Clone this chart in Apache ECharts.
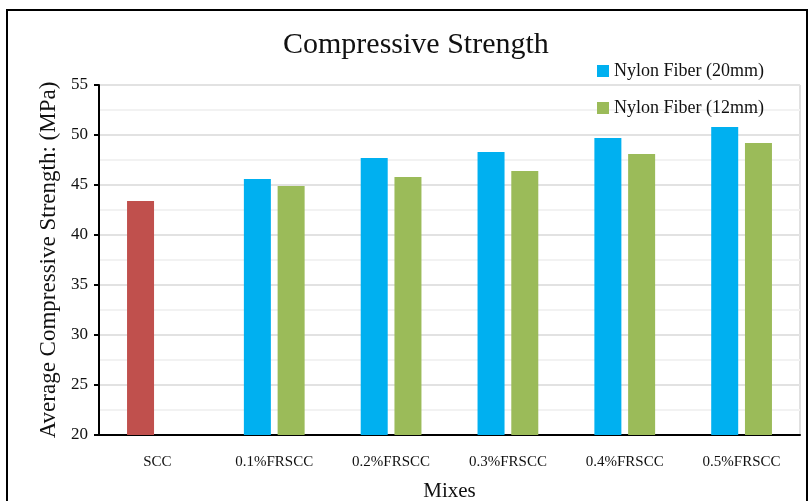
<!DOCTYPE html>
<html>
<head>
<meta charset="utf-8">
<script src="https://cdn.jsdelivr.net/npm/echarts@6/dist/echarts.min.js"></script>
<style>html,body{margin:0;padding:0;background:#fff;}#c{width:810px;height:501px;}</style>
</head>
<body>
<div id="c"></div>
<script>
const categories = ['SCC', '0.1%FRSCC', '0.2%FRSCC', '0.3%FRSCC', '0.4%FRSCC', '0.5%FRSCC'];
const nylon20 = [43.4, 45.6, 47.7, 48.3, 49.7, 50.8];
const nylon12 = [null, 44.9, 45.8, 46.4, 48.1, 49.2];
const seriesNames = ['Nylon Fiber (20mm)', 'Nylon Fiber (12mm)'];
const yTicks = [20, 25, 30, 35, 40, 45, 50, 55];

const serif = '"Liberation Serif", "DejaVu Serif", serif';
const chart = echarts.init(document.getElementById('c'), null, {renderer: 'canvas'});

const data20 = nylon20.map((v, i) => i === 0 ? {value: v, itemStyle: {color: '#C0504D'}} : v);

chart.setOption({
  animation: false,
  backgroundColor: '#fff',
  title: {
    text: 'Compressive Strength',
    left: 278,
    top: 25,
    textStyle: {fontFamily: serif, fontSize: 30, fontWeight: 'normal', color: '#111'}
  },
  legend: {
    orient: 'vertical',
    left: 592,
    top: 57,
    itemWidth: 12,
    itemHeight: 12,
    itemGap: 19,
    icon: 'rect',
    textStyle: {fontFamily: serif, fontSize: 18, color: '#111'},
    data: seriesNames
  },
  graphic: [{
    type: 'rect',
    shape: {x: 7, y: 10, width: 800, height: 520},
    style: {fill: 'none', stroke: '#000', lineWidth: 2},
    silent: true,
    z: 100
  }, {
    type: 'line',
    shape: {x1: 800, y1: 85, x2: 800, y2: 435},
    style: {stroke: '#e0e0e0', lineWidth: 2},
    silent: true
  }],
  grid: {left: 99, right: 10, top: 85, bottom: 66, containLabel: false, outerBoundsMode: 'none'},
  xAxis: {
    type: 'category',
    data: categories,
    name: 'Mixes',
    nameLocation: 'middle',
    nameGap: 46,
    nameTextStyle: {fontFamily: serif, fontSize: 21, color: '#111'},
    axisLine: {lineStyle: {color: '#000', width: 2}},
    axisTick: {show: false},
    axisLabel: {fontFamily: serif, fontSize: 15, color: '#111', margin: 20, interval: 0}
  },
  yAxis: {
    type: 'value',
    min: yTicks[0],
    max: yTicks[yTicks.length - 1],
    interval: 5,
    name: 'Average Compressive Strength: (MPa)',
    nameLocation: 'middle',
    nameGap: 37,
    nameTextStyle: {fontFamily: serif, fontSize: 23, color: '#111'},
    axisLine: {show: true, lineStyle: {color: '#000', width: 2}},
    axisTick: {show: true, length: 5, lineStyle: {color: '#000', width: 2}},
    axisLabel: {fontFamily: serif, fontSize: 17, color: '#111', margin: 11},
    splitLine: {lineStyle: {color: '#e2e2e2', width: 2}},
    minorTick: {show: false, splitNumber: 2},
    minorSplitLine: {show: true, lineStyle: {color: '#f2f2f2', width: 2}}
  },
  series: [{
    name: seriesNames[0],
    type: 'bar',
    data: data20,
    barWidth: 27,
    barGap: '25%',
    itemStyle: {color: '#00B0F0'}
  }, {
    name: seriesNames[1],
    type: 'bar',
    data: nylon12,
    barWidth: 27,
    itemStyle: {color: '#9BBB59'}
  }]
});
</script>
</body>
</html>
